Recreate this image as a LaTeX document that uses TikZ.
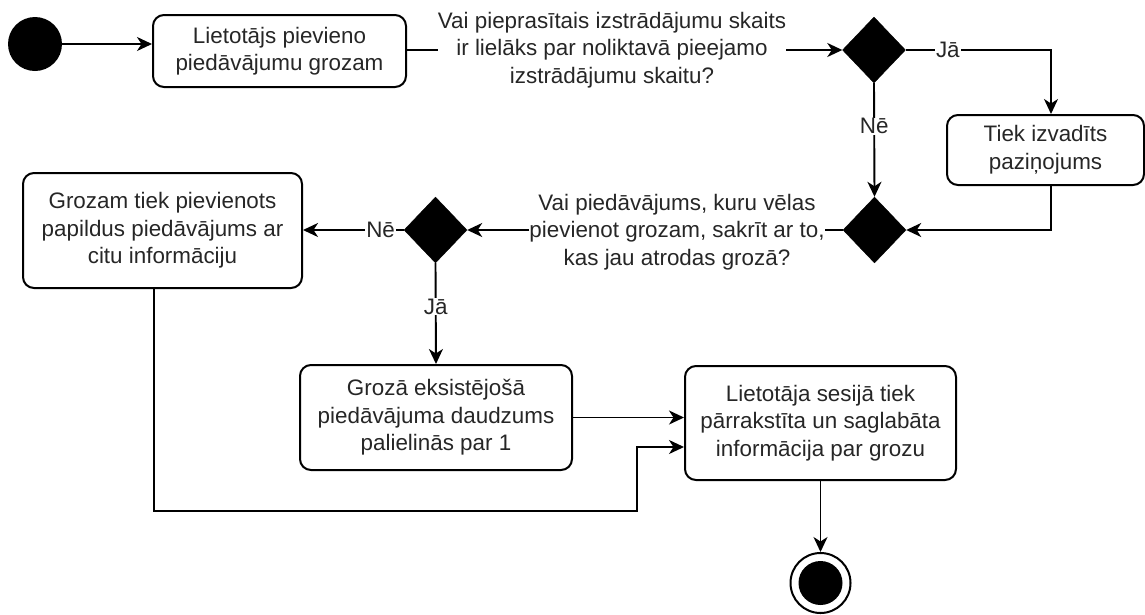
\documentclass[tikz,border=0pt]{standalone}
\usepackage{fontspec}
\setmainfont{Liberation Sans}
\usetikzlibrary{shapes.geometric,arrows.meta}
\begin{document}
\begin{tikzpicture}[x=1pt,y=-1pt,
  every node/.style={font=\fontsize{22.4}{27.5}\selectfont, text=black!85},
  actbox/.style={draw=black,line width=2pt,rounded corners=11pt,align=center,inner sep=0pt},
  dec/.style={diamond,fill=black,draw=black,inner sep=0pt,minimum width=63pt,minimum height=66pt},
  lbl/.style={fill=white,inner sep=1pt},
  qtext/.style={align=center,inner sep=0pt},
  arr/.style={line width=1.9pt,-{Stealth[length=15pt,width=14pt,inset=4.5pt]}},
  ln/.style={line width=1.9pt}
]
\useasboundingbox (0,0) rectangle (1145,614);

\node[circle,fill=black,minimum size=54pt,inner sep=0pt] (start) at (35,44) {};
\node[actbox,minimum width=253pt,minimum height=72pt] (b1) at (279.5,51) {Lietotājs pievieno\\piedāvājumu grozam};
\node[qtext] (q1) at (612,50) {Vai pieprasītais izstrādājumu skaits\\ir lielāks par noliktavā pieejamo\\izstrādājumu skaitu?};
\node[dec] (d1) at (874,50) {};
\node[actbox,minimum width=197pt,minimum height=70pt] (b2) at (1045.5,150) {Tiek izvadīts\\paziņojums};
\node[dec] (d2) at (874.5,230) {};
\node[qtext] (q2) at (677,232) {Vai piedāvājums, kuru vēlas\\pievienot grozam, sakrīt ar to,\\kas jau atrodas grozā?};
\node[dec] (d3) at (435.5,230) {};
\node[actbox,minimum width=279pt,minimum height=115pt] (b3) at (162.5,230.5) {Grozam tiek pievienots\\papildus piedāvājums ar\\citu informāciju};
\node[actbox,minimum width=272pt,minimum height=105pt] (b4) at (436,417.5) {Grozā eksistējošā\\piedāvājuma daudzums\\palielinās par 1};
\node[actbox,minimum width=271pt,minimum height=114pt] (b5) at (820.5,423) {Lietotāja sesijā tiek\\pārrakstīta un saglabāta\\informācija par grozu};
\node[circle,draw=black,line width=2pt,minimum size=60pt,inner sep=0pt] (end) at (820.5,583) {};
\node[circle,fill=black,minimum size=44pt,inner sep=0pt] (endin) at (end.center) {};

\coordinate (c1) at (1051,50);
\coordinate (c2) at (154,511);
\coordinate (c3) at (637,511);
\coordinate (c4) at (637,447);

\draw[arr] (start.east) -- (start -| b1.west);
\draw[ln] (b1.east |- q1) -- (q1.west);
\draw[arr] (q1.east) -- (d1.west);
\draw[arr] (d1.east) -- node[lbl,pos=0.29]{Jā} (c1) -- (c1 |- b2.north);
\draw[arr] (d1.south) -- node[lbl,pos=0.38]{Nē} (d2.north);
\draw[arr] (b2.south -| c1) -- (c1 |- d2) -- (d2.east);
\draw[ln] (d2.west) -- (q2.east |- d2);
\draw[arr] (q2.west |- d3) -- (d3.east);
\draw[arr] (d3.west) -- node[lbl,pos=0.23]{Nē} (d3.west -| b3.east);
\draw[arr] (d3.south) -- node[lbl,pos=0.43]{Jā} (b4.north);
\draw[arr] (b4.east) -- (b4.east -| b5.west);
\draw[arr] (b3.south -| c2) -- (c2) -- (c3) -- (c4) -- (c4 -| b5.west);
\draw[arr] (b5.south) -- (end.north);
\end{tikzpicture}
\end{document}
